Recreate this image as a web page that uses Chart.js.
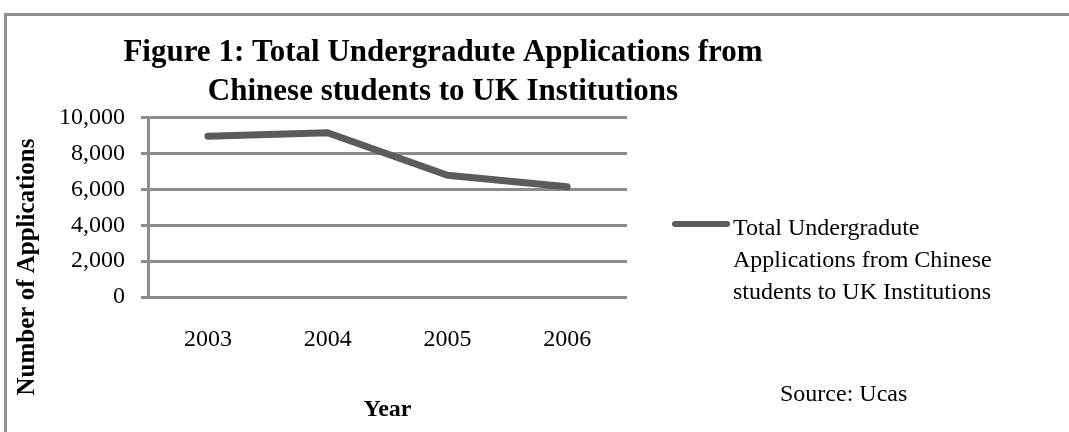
<!DOCTYPE html>
<html>
<head>
<meta charset="utf-8">
<title>Figure 1: Total Undergradute Applications</title>
<script src="https://cdn.jsdelivr.net/npm/chart.js@4.4.1/dist/chart.umd.min.js"></script>
<style>
    body { margin: 0; background: #ffffff; }
    #wrap { position: relative; width: 1069px; height: 432px; overflow: hidden; }
    #frame {
        position: absolute; left: 4px; top: 13px; width: 1100px; height: 440px;
        border-top: 3px solid #8f8f8f; border-left: 3px solid #8f8f8f;
        pointer-events: none;
    }
</style>
</head>
<body>
<div id="wrap">
    <canvas id="chart" width="1069" height="432"></canvas>
    <div id="frame"></div>
</div>
<script>
// Data
const years = ['2003', '2004', '2005', '2006'];
const applications = [8980, 9170, 6800, 6150];
const yMin = 0;
const yMax = 10000;
const yStep = 2000;

// Text
const titleLines = ['Figure 1: Total Undergradute Applications from', 'Chinese students to UK Institutions'];
const legendLines = ['Total Undergradute', 'Applications from Chinese', 'students to UK Institutions'];
const seriesLabel = legendLines.join(' ');
const yAxisTitle = 'Number of Applications';
const xAxisTitle = 'Year';
const sourceText = 'Source: Ucas';

const FONT = '"Liberation Serif", "Times New Roman", serif';
const LINE_COLOR = '#5b5b5b';
const GRID_COLOR = '#8c8c8c';

// Draws the rotated y title, the wrapped legend and the source note
const extrasPlugin = {
    id: 'extras',
    afterDraw(chart) {
        const { ctx, chartArea } = chart;

        // y axis title, centred lower than the plot like the original
        ctx.save();
        ctx.fillStyle = '#000';
        ctx.font = 'bold 25px ' + FONT;
        ctx.textAlign = 'center';
        ctx.textBaseline = 'middle';
        ctx.translate(chartArea.left - 120, chartArea.bottom - 30);
        ctx.rotate(-Math.PI / 2);
        ctx.fillText(yAxisTitle, 0, 0);
        ctx.restore();

        // legend
        const lx = chartArea.right + 48;
        const ly = chartArea.top + 106;
        ctx.save();
        ctx.strokeStyle = LINE_COLOR;
        ctx.lineWidth = 6;
        ctx.lineCap = 'round';
        ctx.beginPath();
        ctx.moveTo(lx, ly);
        ctx.lineTo(lx + 52, ly);
        ctx.stroke();

        ctx.fillStyle = '#000';
        ctx.font = '24px ' + FONT;
        ctx.textAlign = 'left';
        ctx.textBaseline = 'middle';
        legendLines.forEach((line, i) => {
            ctx.fillText(line, lx + 58, ly + 5 + i * 32);
        });

        // source note
        ctx.fillText(sourceText, chartArea.right + 153, chartArea.bottom + 98);
        ctx.restore();
    }
};

const ctx = document.getElementById('chart');
const chart = new Chart(ctx, {
    type: 'line',
    data: {
        labels: years,
        datasets: [{
            label: seriesLabel,
            data: applications,
            borderColor: LINE_COLOR,
            borderWidth: 7,
            borderCapStyle: 'round',
            borderJoinStyle: 'round',
            pointRadius: 0,
            tension: 0,
            fill: false
        }]
    },
    options: {
        responsive: false,
        animation: false,
        layout: {
            padding: { left: 10, right: 193, top: 0, bottom: 0 }
        },
        plugins: {
            legend: { display: false },
            tooltip: { enabled: false },
            title: {
                display: true,
                text: titleLines,
                color: '#000',
                font: { family: FONT, size: 31, weight: 'bold', lineHeight: 1.24 },
                padding: { top: 34, bottom: 7 }
            }
        },
        scales: {
            x: {
                offset: true,
                grid: { display: false },
                border: { display: false },
                ticks: {
                    color: '#000',
                    padding: 20,
                    font: { family: FONT, size: 24 }
                },
                title: {
                    display: true,
                    text: xAxisTitle,
                    color: '#000',
                    font: { family: FONT, size: 24, weight: 'bold' },
                    padding: { top: 0, bottom: 8 }
                },
                afterFit(scale) { scale.height = 135; }
            },
            y: {
                min: yMin,
                max: yMax,
                grid: {
                    color: GRID_COLOR,
                    lineWidth: 3,
                    drawTicks: true,
                    tickLength: 7,
                    tickColor: GRID_COLOR
                },
                border: { display: true, color: GRID_COLOR, width: 3 },
                ticks: {
                    stepSize: yStep,
                    color: '#000',
                    padding: 16,
                    font: { family: FONT, size: 24 },
                    callback: value => value.toLocaleString('en-US')
                },
                afterFit(scale) { scale.width = 138; }
            },
            // empty right-hand axis that reserves room for the legend
            side: {
                type: 'linear',
                position: 'right',
                grid: { display: false },
                border: { display: false },
                ticks: { display: false },
                afterFit(scale) { scale.width = 249; }
            }
        }
    },
    plugins: [extrasPlugin]
});
</script>
</body>
</html>
